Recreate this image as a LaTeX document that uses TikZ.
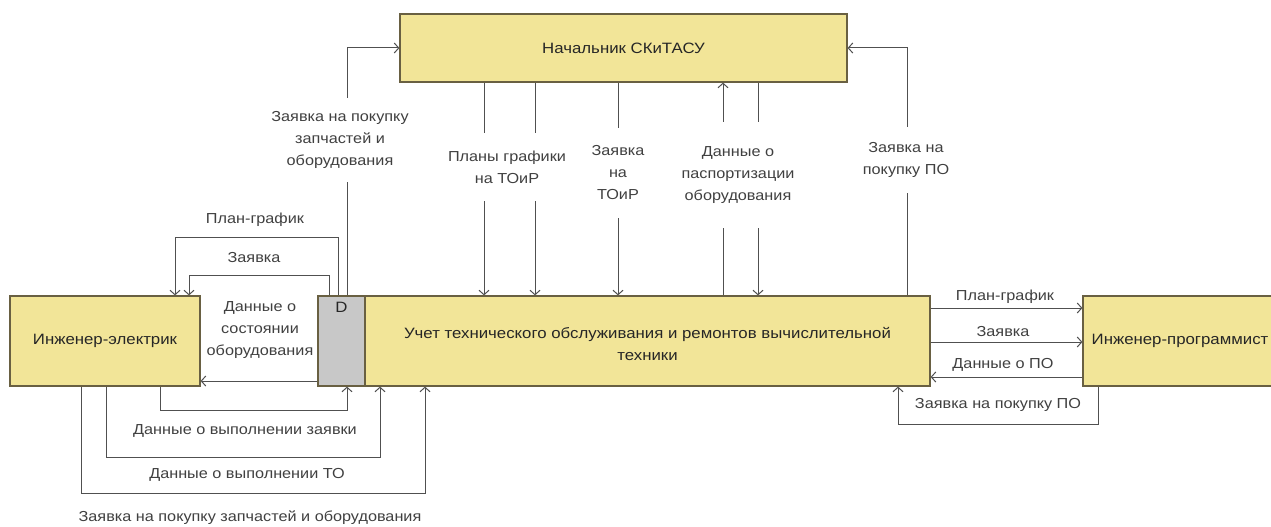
\documentclass[tikz,border=0pt]{standalone}
\usepackage{fontspec}
\setmainfont{Liberation Sans}[FakeStretch = 1.12]
\usetikzlibrary{arrows.meta}
\definecolor{boxfill}{RGB}{242,229,152}
\definecolor{boxline}{RGB}{105,96,66}
\definecolor{dgray}{RGB}{200,200,200}
\definecolor{flowline}{RGB}{80,80,80}
\tikzset{
	box/.style = {draw = boxline, fill = boxfill, line width = 1.2pt, inner sep = 0pt, align = center, text = black!85, font = \fontsize{15}{22}\selectfont},
	flow/.style = {flowline, line width = 1pt, -{Straight Barb[length = 4.5pt, width = 10pt]}},
	lbl/.style = {fill = white, align = center, text = black!75, inner xsep = 2pt, inner ysep = 3pt, font = \fontsize{14.5}{22}\selectfont},
}
\begin{document}
\begin{tikzpicture}[x = 1pt, y = -1pt]
		\useasboundingbox (0,0) rectangle (1271,527);
		%
		\node[box, minimum width = 447pt, minimum height = 68pt] (chief) at (623.5,48) {Начальник СКиТАСУ};
		\node[box, fill = dgray, minimum width = 47pt, minimum height = 90pt] (dbox) at (341.5,341) {};
		\node[anchor = north, inner sep = 0pt, yshift = -7pt, text = black!85, font = \fontsize{15}{18}\selectfont] (dmark) at (dbox.north) {D};
		\node[box, minimum width = 565pt, minimum height = 90pt, text height = 40pt] (main) at (647.5,341) {Учет технического обслуживания и ремонтов вычислительной\\техники};
		\node[box, minimum width = 190pt, minimum height = 90pt] (elec) at (105,341) {Инженер-электрик};
		\node[box, minimum width = 194pt, minimum height = 90pt] (prog) at (1180,341) {Инженер-программист};
		%
		\draw[flow] (chief.south -| 484,0) -- (main.north -| 484,0);
		\draw[flow] (chief.south -| 535,0) -- (main.north -| 535,0);
		\draw[flow] (chief.south -| 618,0) -- (main.north -| 618,0);
		\draw[flow] (main.north -| 723,0) -- (chief.south -| 723,0);
		\draw[flow] (chief.south -| 758,0) -- (main.north -| 758,0);
		\draw[flow] (main.north -| 907,0) |- (chief.east);
		\draw[flow] (dbox.north -| 347,0) |- (chief.west);
		%
		\draw[flow] (dbox.north -| 338,0) -- (338,237) -| (elec.north -| 175,0);
		\draw[flow] (dbox.north -| 329,0) -- (329,275) -| (elec.north -| 189,0);
		\draw[flow] (dbox.west |- 0,381) -- (elec.east |- 0,381);
		\draw[flow] (elec.south -| 160,0) -- (160,410) -| (dbox.south -| 347,0);
		\draw[flow] (elec.south -| 106,0) -- (106,457) -| (main.south -| 380,0);
		\draw[flow] (elec.south -| 81,0) -- (81,493) -| (main.south -| 425,0);
		%
		\draw[flow] (main.east |- 0,308) -- (prog.west |- 0,308);
		\draw[flow] (main.east |- 0,342) -- (prog.west |- 0,342);
		\draw[flow] (prog.west |- 0,377) -- (main.east |- 0,377);
		\draw[flow] (prog.south -| 1098,0) -- (1098,424) -| (main.south -| 898,0);
		%
		\node[lbl, inner ysep = 13pt] (lzap) at (340,140) {Заявка на покупку\\запчастей и\\оборудования};
		\node[lbl, inner ysep = 18pt] (lplans) at (507,167) {Планы графики\\на ТОиР};
		\node[lbl, inner ysep = 18pt] (ltoir) at (618,173) {Заявка\\на\\ТОиР};
		\node[lbl, inner ysep = 25pt] (lpasp) at (738,175) {Данные о\\паспортизации\\оборудования};
		\node[lbl, inner ysep = 15pt] (lpo) at (906,160) {Заявка на\\покупку ПО};
		%
		\node[lbl] (lplan) at (255,220) {План-график};
		\node[lbl] (lreq) at (254,258) {Заявка};
		\node[lbl] (lstate) at (260,330) {Данные о\\состоянии\\оборудования};
		\node[lbl] (ldone) at (245,431) {Данные о выполнении заявки};
		\node[lbl] (lto) at (247,475) {Данные о выполнении ТО};
		\node[lbl] (lparts) at (250,518) {Заявка на покупку запчастей и оборудования};
		%
		\node[lbl, inner ysep = 4pt] (rplan) at (1005,297) {План-график};
		\node[lbl, inner ysep = 4pt] (rreq) at (1003,332) {Заявка};
		\node[lbl, inner ysep = 4pt] (rdata) at (1003,365) {Данные о ПО};
		\node[lbl] (rbuy) at (998,405) {Заявка на покупку ПО};
	\end{tikzpicture}
\end{document}
